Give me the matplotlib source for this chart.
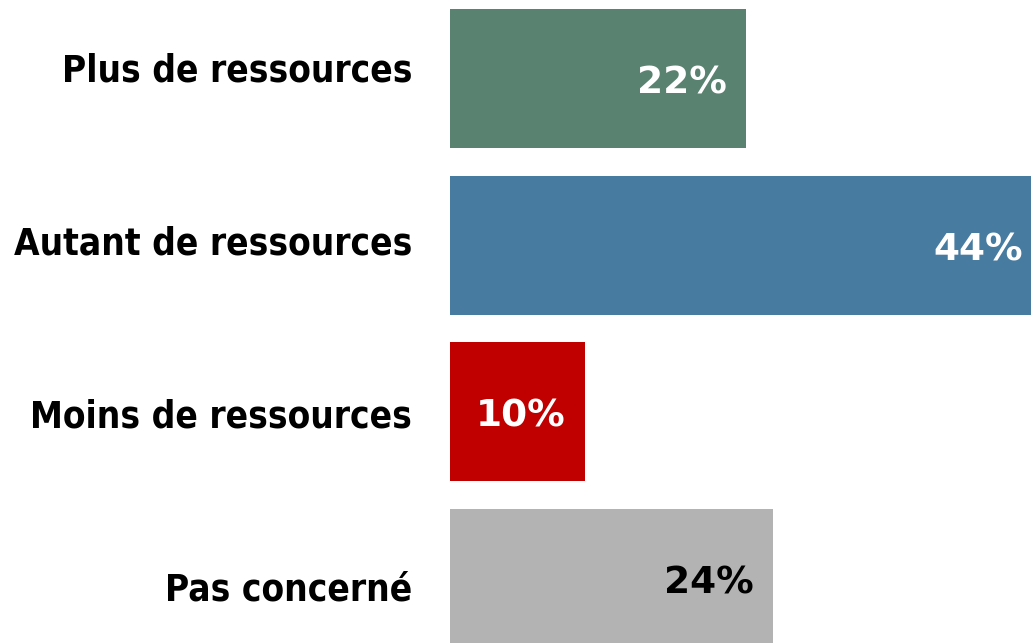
import os
import matplotlib
matplotlib.use("Agg")
import matplotlib.pyplot as plt
from matplotlib import transforms, font_manager as fm

categories = ["Plus de ressources", "Autant de ressources", "Moins de ressources", "Pas concerné"]
values = [22, 44, 10, 24]
labels = ["22%", "44%", "10%", "24%"]
colors = ["#5A8270", "#477BA0", "#C00000", "#B3B3B3"]
text_colors = ["white", "white", "white", "black"]

bold_file = os.path.join(matplotlib.get_data_path(), "fonts", "ttf", "DejaVuSans-Bold.ttf")
cond_files = [f.fname for f in fm.fontManager.ttflist
              if os.path.basename(f.fname) == "DejaVuSansCondensed-Bold.ttf"]
cat_fp = fm.FontProperties(fname=cond_files[0] if cond_files else bold_file, size=26.5)
val_fp = fm.FontProperties(fname=bold_file, size=27)

W, H = 1031, 643
fig = plt.figure(figsize=(W / 100, H / 100), dpi=100)
ax = fig.add_axes([450 / W, 0, 581 / W, 1])
y = list(range(len(categories)))
ax.barh(y, values, height=0.834, color=colors)
ax.set_xlim(0, 43.17)
ax.set_ylim(3.386, -0.471)
ax.axis("off")

for i, (cat, v, lab, tc) in enumerate(zip(categories, values, labels, text_colors)):
    fig.text(412 / W, 1 - (81.3 + 173 * i) / H, cat, ha="right", va="baseline",
             color="black", fontproperties=cat_fp)
    off = transforms.offset_copy(ax.transData, fig=fig, x=-19, y=-15, units="dots")
    ax.text(v, i, lab, ha="right", va="baseline", color=tc,
            fontproperties=val_fp, transform=off)

fig.savefig("out.png", dpi=100)
